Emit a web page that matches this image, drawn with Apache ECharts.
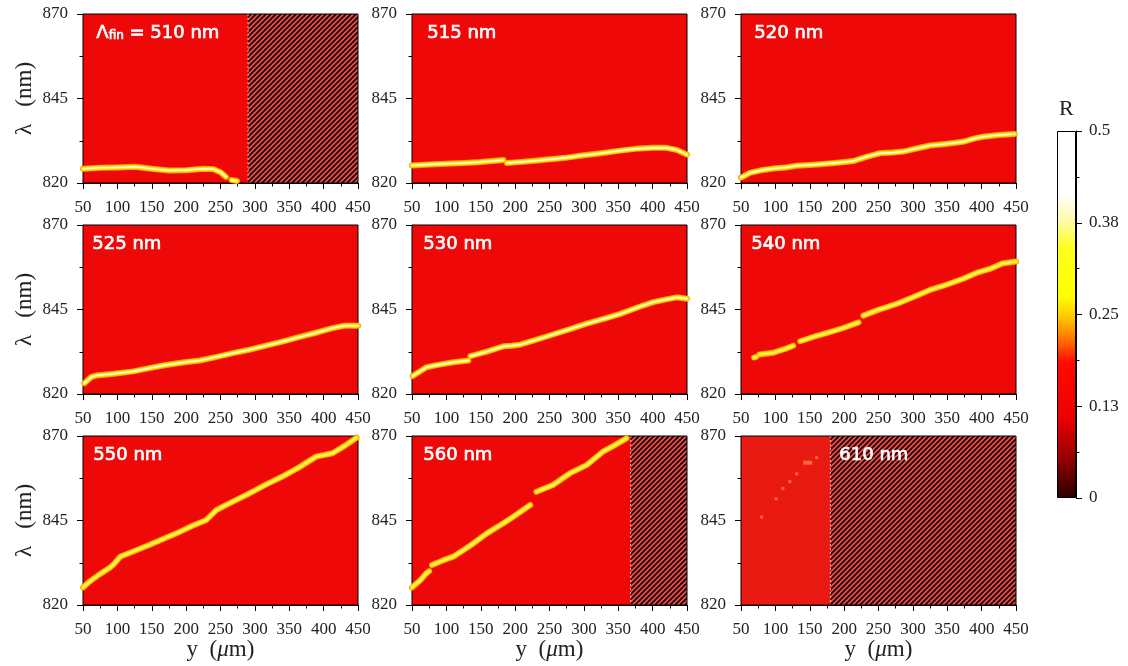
<!DOCTYPE html>
<html><head><meta charset="utf-8">
<script src="https://cdn.jsdelivr.net/npm/echarts@6/dist/echarts.min.js"></script>
<style>html,body{margin:0;padding:0;background:#fff}#c{width:1128px;height:666px}</style>
</head><body><div id="c"></div>
<script>
// ---------------- data ----------------
const panelNames = ['= 510 nm','515 nm','520 nm','525 nm','530 nm','540 nm','550 nm','560 nm','610 nm'];
const xRange = [50, 450], xStep = 50;
const yRange = [820, 870], yStep = 25;
const cbarRange = [0, 0.5], cbarStep = 0.125;
const cbarTicks = [0, 0.125, 0.25, 0.375, 0.5];
const cbarTickLabels = ['0', '0.13', '0.25', '0.38', '0.5'];
const hatchStart = [290, null, null, null, null, null, null, 368, 180];

// resonance ridge (y [um], lambda [nm]); null = gap
const ridge510 = [[50,824.2],[75,824.5],[100,824.6],[125,824.8],[150,824.2],[175,823.7],[200,823.8],[225,824.2],[240,824.1],[250,823.2],[258,821.8],null,[266,820.9],[274,820.6]];
const ridge515 = [[50,825.2],[75,825.5],[100,825.7],[125,825.9],[150,826.2],[183,826.8],null,[188,825.9],[200,826.1],[225,826.5],[250,827.0],[275,827.5],[300,828.2],[325,828.8],[350,829.5],[375,830.1],[400,830.4],[420,830.4],[435,829.8],[450,828.4]];
const ridge520 = [[50,821.6],[63,823.0],[80,823.8],[97,824.3],[115,824.6],[131,825.1],[155,825.4],[179,825.8],[200,826.2],[213,826.5],[235,827.9],[252,828.8],[270,829.0],[286,829.3],[305,830.2],[325,831.1],[350,831.6],[373,832.2],[390,833.2],[402,833.7],[425,834.2],[448,834.5]];
const ridge525 = [[52,823.2],[62,825.0],[70,825.5],[95,826.0],[123,826.7],[150,827.8],[171,828.6],[195,829.3],[220,829.9],[245,831.0],[268,832.1],[290,833.0],[316,834.3],[340,835.5],[364,836.8],[390,838.2],[413,839.5],[430,840.2],[450,840.2]];
const ridge530 = [[51,825.3],[71,827.9],[90,828.7],[110,829.4],[132,829.9],null,[135,831.2],[160,832.6],[183,834.1],[195,834.3],[207,834.6],[230,836.0],[255,837.6],[280,839.2],[304,840.8],[330,842.3],[353,843.7],[378,845.6],[401,847.2],[420,848.0],[435,848.6],[450,848.2]];
const ridge540 = [[69,830.8],[72,831.0],null,[77,831.7],[97,832.2],[115,833.4],[126,834.3],null,[136,835.6],[160,837.2],[179,838.3],[200,839.6],[221,841.2],null,[228,843.2],[250,844.9],[277,846.7],[300,848.6],[325,850.8],[350,852.4],[373,854.1],[395,856.0],[412,857.0],[430,858.6],[450,859.2]];
const ridge550 = [[50,825.2],[60,827.0],[75,829.2],[90,831.2],[96,832.3],[104,834.3],[125,836.0],[147,837.8],[165,839.4],[186,841.2],[210,843.5],[229,845.1],[244,848.1],[268,850.6],[292,853.0],[316,855.6],[340,858.0],[365,860.8],[389,863.9],[413,864.9],[430,867.0],[448,869.5]];
const ridge560 = [[50,825.2],[62,827.3],[71,829.4],[75,830.0],null,[79,831.8],[95,833.2],[110,834.3],[135,837.6],[159,841.2],[183,844.2],[200,846.5],[222,849.6],null,[231,853.5],[255,855.5],[280,859.0],[304,861.4],[328,865.4],[345,867.3],[362,869.3]];
const dots610 = [[80,846.0],[101,851.4],[111,854.5],[121,856.5],[131,858.8],[147,862.1],[160,863.6]];
const ridges = [ridge510, ridge515, ridge520, ridge525, ridge530, ridge540, ridge550, ridge560, []];

// ---------------- layout / style ----------------
const gridLefts = [83, 412, 741], gridTops = [14, 225, 436], gridW = 275, gridH = 169;
const labelDX = [13, 15, 13, 9, 11, 10, 10, 11, 98];
const cbar = {left: 1057, top: 131, width: 19, height: 367};
const serif = "'Liberation Serif', serif";
const sans = "'DejaVu Sans', sans-serif";
const bgColors = ['#ee0808','#ee0808','#ee0808','#ee0808','#ee0808','#ee0808','#ee0808','#ee0808','#e91a12'];

const pc = document.createElement('canvas'); pc.width = 5; pc.height = 5;
const g2 = pc.getContext('2d');
g2.fillStyle = '#f04c4a'; g2.fillRect(0, 0, 5, 5);
g2.strokeStyle = '#100000'; g2.lineWidth = 1.65;
[0, 5, 10].forEach(c => { g2.beginPath(); g2.moveTo(c + 1, -1); g2.lineTo(c - 6, 6); g2.stroke(); });
const hatchPattern = {image: pc, repeat: 'repeat'};

function toLine(arr) { return arr.map(p => p === null ? ['-', '-'] : p); }

const labelStyle = {fontFamily: sans, fontSize: 18, fill: '#fff', stroke: '#fff', lineWidth: 0.7};
const grids = [], xAxes = [], yAxes = [], series = [], graphics = [];
for (let i = 0; i < 9; i++) {
  const r = Math.floor(i / 3), c = i % 3;
  grids.push({left: gridLefts[c], top: gridTops[r], width: gridW, height: gridH});
  xAxes.push({
    type: 'value', gridIndex: i, min: xRange[0], max: xRange[1], interval: xStep,
    name: r === 2 ? 'y  ({i|μ}m)' : '', nameLocation: 'middle', nameGap: 30,
    nameTextStyle: {fontFamily: serif, fontSize: 23, color: '#222', rich: {i: {fontFamily: serif, fontStyle: 'italic', fontSize: 23}}},
    axisLine: {show: true, lineStyle: {color: '#000', width: 1}},
    axisTick: {show: true, length: 6, lineStyle: {color: '#000'}},
    minorTick: {show: true, splitNumber: 2, length: 3.5, lineStyle: {color: '#000'}},
    axisLabel: {fontFamily: serif, fontSize: 17, color: '#222', margin: 16},
    splitLine: {show: false}
  });
  yAxes.push({
    type: 'value', gridIndex: i, min: yRange[0], max: yRange[1], interval: yStep,
    name: c === 0 ? 'λ   (nm)' : '', nameLocation: 'middle', nameGap: 47, nameRotate: 90,
    nameTextStyle: {fontFamily: serif, fontSize: 23, color: '#222'},
    axisLine: {show: true, lineStyle: {color: '#000', width: 1}},
    axisTick: {show: true, length: 6, lineStyle: {color: '#000'}},
    minorTick: {show: true, splitNumber: 2, length: 3.5, lineStyle: {color: '#000'}},
    axisLabel: {fontFamily: serif, fontSize: 17, color: '#222', margin: 15},
    splitLine: {show: false}
  });
  const bg = bgColors[i];
  series.push({
    type: 'custom', xAxisIndex: i, yAxisIndex: i, silent: true, z: 1,
    data: [[hatchStart[i] === null ? xRange[1] : hatchStart[i]]],
    renderItem: (params, api) => {
      const hs = api.value(0);
      const tl = api.coord([xRange[0], yRange[1]]), br = api.coord([xRange[1], yRange[0]]);
      const ch = [{type: 'rect', shape: {x: tl[0], y: tl[1], width: br[0] - tl[0], height: br[1] - tl[1]}, style: {fill: bg}}];
      if (hs < xRange[1]) {
        const hx = api.coord([hs, yRange[0]])[0];
        ch.push({type: 'rect', shape: {x: hx, y: tl[1], width: br[0] - hx, height: br[1] - tl[1]}, style: {fill: hatchPattern}});
        ch.push({type: 'line', shape: {x1: hx, y1: tl[1], x2: hx, y2: br[1]}, style: {stroke: '#ffb0a0', lineWidth: 1, lineDash: [2, 2]}});
      }
      ch.push({type: 'rect', shape: {x: tl[0], y: tl[1], width: br[0] - tl[0], height: br[1] - tl[1]}, style: {fill: 'none', stroke: '#000', lineWidth: 1}});
      return {type: 'group', children: ch};
    }
  });
  const data = toLine(ridges[i]);
  if (data.length) {
    const layers = [[6, '#ffa000', 1], [4.2, '#ffe400', 1], [1.6, '#fffff0', i >= 5 ? 0.5 : 0.95]];
    layers.forEach((L, k) => series.push({
      type: 'line', xAxisIndex: i, yAxisIndex: i, data, showSymbol: false, symbol: 'none',
      connectNulls: false, silent: true, animation: false, z: 3 + k,
      lineStyle: {width: L[0], color: L[1], opacity: L[2], cap: 'round', join: 'round'}
    }));
  }
  if (i === 8) {
    series.push({
      type: 'scatter', xAxisIndex: i, yAxisIndex: i, data: dots610, silent: true, z: 3,
      symbol: 'rect', symbolSize: (v, p) => p.dataIndex === 5 ? [9, 4] : [3, 3],
      itemStyle: {color: '#ff7a48', opacity: 0.8}
    });
  }
  const isFirst = i === 0;
  graphics.push({
    type: 'text', left: gridLefts[c] + labelDX[i], top: gridTops[r] + 10, z: 100,
    style: isFirst ? {
      text: '{a|Λ}{s|fin}{a| ' + panelNames[i] + '}', stroke: '#fff', lineWidth: 0.7,
      rich: {a: {fontFamily: sans, fontSize: 18, fill: '#fff', lineHeight: 22, verticalAlign: 'bottom'},
             s: {fontFamily: sans, fontSize: 12, fill: '#fff', lineHeight: 22, verticalAlign: 'bottom'}}
    } : Object.assign({text: panelNames[i]}, labelStyle)
  });
}

// colorbar
grids.push({left: cbar.left, top: cbar.top, width: cbar.width, height: cbar.height});
xAxes.push({type: 'category', gridIndex: 9, data: ['R'], show: false});
yAxes.push({
  type: 'value', gridIndex: 9, position: 'right', min: cbarRange[0], max: cbarRange[1], interval: cbarStep,
  axisLine: {show: true, lineStyle: {color: '#000'}},
  axisTick: {show: true, length: 6, lineStyle: {color: '#000'}},
  minorTick: {show: true, splitNumber: 2, length: 3.5, lineStyle: {color: '#000'}},
  axisLabel: {fontFamily: serif, fontSize: 17, color: '#222', margin: 13,
    formatter: v => cbarTickLabels[Math.round(v / cbarStep)]},
  splitLine: {show: false}
});
series.push({
  type: 'bar', xAxisIndex: 9, yAxisIndex: 9, data: [cbarTicks[cbarTicks.length - 1]], barWidth: '100%', silent: true,
  itemStyle: {borderColor: '#000', borderWidth: 1, color: new echarts.graphic.LinearGradient(0, 0, 0, 1, [
    {offset: 0, color: '#ffffff'}, {offset: 0.17, color: '#ffffff'}, {offset: 0.24, color: '#fffbb0'},
    {offset: 0.32, color: '#ffff20'}, {offset: 0.45, color: '#ffff00'}, {offset: 0.51, color: '#ffc400'},
    {offset: 0.58, color: '#ff6000'}, {offset: 0.63, color: '#ff0a00'}, {offset: 0.78, color: '#ee0000'},
    {offset: 0.88, color: '#a00000'}, {offset: 1, color: '#2a0000'}])}
});
graphics.push({type: 'text', left: cbar.left + 2, top: cbar.top - 33,
  style: {text: 'R', fontFamily: serif, fontSize: 22, fill: '#222'}});

const chart = echarts.init(document.getElementById('c'), null, {renderer: 'canvas'});
chart.setOption({animation: false, grid: grids, xAxis: xAxes, yAxis: yAxes, series, graphic: graphics});
</script></body></html>
